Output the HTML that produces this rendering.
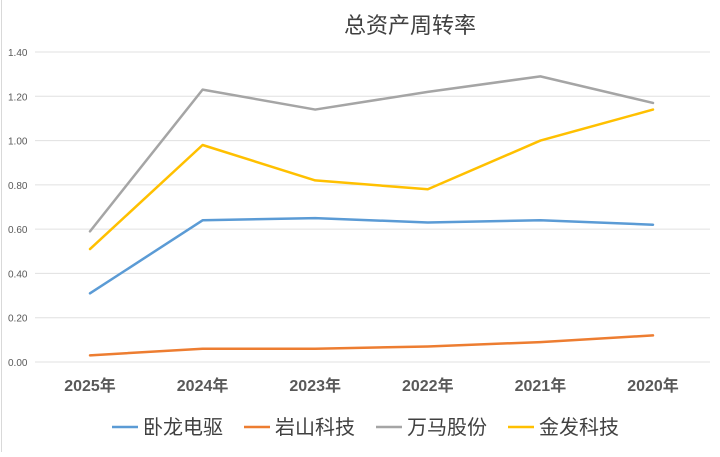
<!DOCTYPE html>
<html><head><meta charset="utf-8"><style>
body{margin:0;background:#fff;}
svg text{font-family:"Liberation Sans","Noto Sans CJK SC",sans-serif;}
</style></head><body>
<svg id="c" width="720" height="452">
<rect x="0" y="0" width="720" height="452" fill="#fff"/>
<line x1="1.5" y1="0" x2="1.5" y2="452" stroke="#d9d9d9"/>
<text x="410" y="33" text-anchor="middle" font-size="22" fill="#404040">总资产周转率</text>
<g id="grid"></g><g id="series"></g><g id="legend"></g>
</svg>
<script>
const categories=["2025年","2024年","2023年","2022年","2021年","2020年"];
const yTicks=[0,0.2,0.4,0.6,0.8,1.0,1.2,1.4];
const names=["卧龙电驱","岩山科技","万马股份","金发科技"];
const colors=["#5b9bd5","#ed7d31","#a5a5a5","#ffc000"];
const wolong=[0.31,0.64,0.65,0.63,0.64,0.62];
const yanshan=[0.03,0.06,0.06,0.07,0.09,0.12];
const wanma=[0.59,1.23,1.14,1.22,1.29,1.17];
const jinfa=[0.51,0.98,0.82,0.78,1.00,1.14];
const seriesVals=[wolong,yanshan,wanma,jinfa];
const NS="http://www.w3.org/2000/svg";
const y=v=>362-v/1.4*310;
const x=i=>90+i*112.6;
function mk(t,a,p){const e=document.createElementNS(NS,t);for(const k in a)e.setAttribute(k,a[k]);p.appendChild(e);return e;}
const grid=document.getElementById('grid');
yTicks.forEach(v=>{
 const l=mk('line',{x1:35,x2:710,y1:y(v),y2:y(v),stroke:'#e0e0e0','stroke-width':1},grid);
 
 
 const t=mk('text',{x:8,y:y(v)+4,'font-size':10,fill:'#595959'},grid);
 t.textContent=v.toFixed(2);
 
 
});
categories.forEach((c,i)=>{
 const t=mk('text',{x:x(i),y:391,'font-size':16,'font-weight':'bold',fill:'#595959','text-anchor':'middle'},grid);
 t.textContent=c;
 
 
});
const sg=document.getElementById('series');
seriesVals.forEach((vals,s)=>{
 const p=mk('polyline',{points:vals.map((v,i)=>x(i)+','+y(v)).join(' '),fill:'none',stroke:colors[s],'stroke-width':2.5,'stroke-linejoin':'round','stroke-linecap':'round'},sg);
 
 
});
const lg=document.getElementById('legend');
const lx=[112,244,376,508];
names.forEach((n,s)=>{
 const g=mk('g',{},lg);
 
 
 mk('line',{x1:lx[s],x2:lx[s]+26,y1:427,y2:427,stroke:colors[s],'stroke-width':2.5},g);
 const t=mk('text',{x:lx[s]+31,y:434,'font-size':20,fill:'#404040'},g);
 t.textContent=n;
});
</script>
</body></html>
